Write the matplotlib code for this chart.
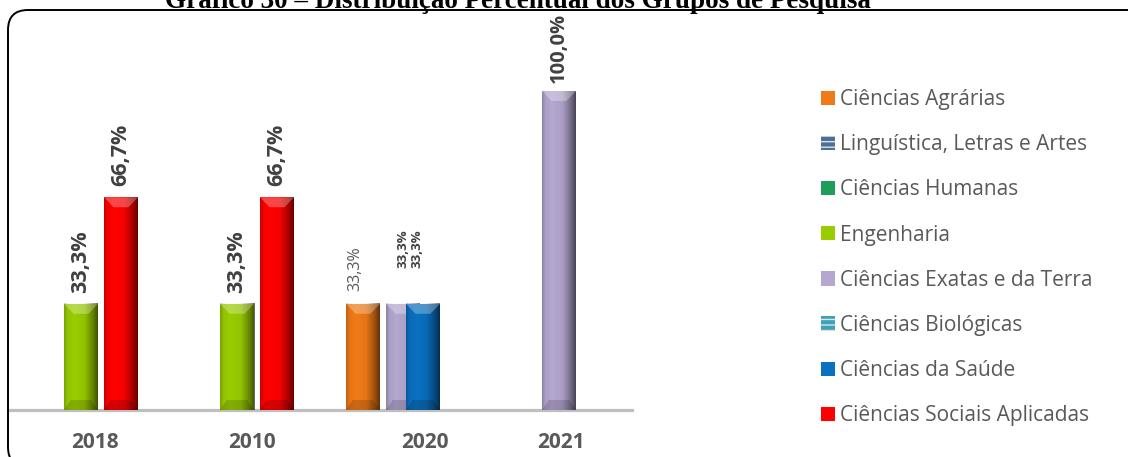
import numpy as np
import matplotlib
matplotlib.use("Agg")
import matplotlib.pyplot as plt
from matplotlib.patches import Patch, Polygon, FancyBboxPatch

# ---------------- data ----------------
title = "Gráfico 30 – Distribuição Percentual dos Grupos de Pesquisa"
categories = ["2018", "2010", "2020", "2021"]
series_names = ["Ciências Agrárias", "Linguística, Letras e Artes", "Ciências Humanas",
                "Engenharia", "Ciências Exatas e da Terra", "Ciências Biológicas",
                "Ciências da Saúde", "Ciências Sociais Aplicadas"]
agrarias = [0, 0, 33.3, 0]
linguistica = [0, 0, 0, 0]
humanas = [0, 0, 0, 0]
engenharia = [33.3, 33.3, 0, 0]
exatas = [0, 0, 33.3, 100.0]
biologicas = [0, 0, 0, 0]
saude = [0, 0, 33.3, 0]
sociais = [66.7, 66.7, 0, 0]
values = [agrarias, linguistica, humanas, engenharia, exatas, biologicas, saude, sociais]

# ---------------- style ----------------
colors = ["#F07A18", "#4F6E96", "#1E9E5A", "#9ACD00", "#B4A7D0", "#3FA3B5", "#0A70C0", "#FF0000"]
hatches = [None, "---", None, None, None, "---", None, None]
W, H = 1128, 457
fig = plt.figure(figsize=(W / 100, H / 100), dpi=100)
plt.rcParams["font.family"] = ["Open Sans", "DejaVu Sans"]

ax = fig.add_axes([8 / W, 47 / H, 624 / W, 319 / H])
ax.set_xlim(-0.5, len(categories) - 0.5)
ax.set_ylim(0, 100)

bar_w = 34 / 156
step = 10 / 156
x = np.arange(len(categories))
n = len(series_names)

# label style tweaks: (series, category) -> (fontsize, weight, color, dy_pt, dx_px)
label_style = {
    (0, 2): (11.5, "normal", "#595959", 9, -8),
    (4, 2): (9.5, "bold", "#404040", 26, 0),
    (6, 2): (9.5, "bold", "#404040", 26, -6),
    (4, 3): (14.5, "bold", "#404040", 6, 0),
}
default_label = (15.5, "bold", "#404040", 8, 0)

px_per_unit_y = 319 / 100.0

for i, (name, vals) in enumerate(zip(series_names, values)):
    z = 2 + i * 0.1
    xs = x + (i - (n - 1) / 2) * step
    bars = ax.bar(xs, vals, width=bar_w, color=colors[i], zorder=z, linewidth=0)
    for j, rect in enumerate(bars):
        h = rect.get_height()
        if h <= 0:
            continue
        x0, w = rect.get_x(), rect.get_width()
        # horizontal bevel shading
        g = np.linspace(0, 1, 80)
        prof = np.interp(g, [0, 0.1, 0.3, 0.6, 0.85, 1.0], [0.22, 0.05, 0.0, 0.05, 0.35, 0.6])
        img = np.zeros((1, 80, 4))
        img[..., 3] = prof
        ax.imshow(img, extent=(x0, x0 + w, 0, h), aspect="auto", zorder=z + 0.02,
                  interpolation="bilinear", clip_path=rect)
        # bottom darker bevel
        d = 10 / px_per_unit_y
        ax.add_patch(Polygon([(x0, 0), (x0 + w, 0), (x0 + w * 0.8, d), (x0 + w * 0.2, d)],
                             closed=True, facecolor="black", alpha=0.15, lw=0, zorder=z + 0.03))
        # top lighter bevel
        ax.add_patch(Polygon([(x0, h), (x0 + w, h), (x0 + w * 0.72, h - d), (x0 + w * 0.28, h - d)],
                             closed=True, facecolor="white", alpha=0.28, lw=0, zorder=z + 0.03))
        fs, wt, col, dy, dx = label_style.get((i, j), default_label)
        lab = f"{vals[j]:.1f}".replace(".", ",") + "%"
        ax.annotate(lab, xy=(rect.get_x() + w / 2, h), xytext=(dx * 72 / 100, dy),
                    textcoords="offset points", rotation=90, ha="center", va="bottom",
                    fontsize=fs, fontweight=wt, color=col, zorder=10,
                    annotation_clip=False)

ax.set_xlim(-0.5, len(categories) - 0.5)
ax.set_ylim(0, 100)

# axes styling
for s in ["top", "right", "left"]:
    ax.spines[s].set_visible(False)
ax.spines["bottom"].set_color("#BFBFBF")
ax.spines["bottom"].set_linewidth(2.3)
ax.spines["bottom"].set_zorder(1)
ax.set_yticks([])
tick_dx_px = [9, 10, 27, 7]
ax.set_xticks(x + np.array(tick_dx_px) / 156)
ax.set_xticklabels(categories, fontsize=15, fontweight="bold", color="#595959")
ax.tick_params(axis="x", length=0, pad=16)
ax.patch.set_visible(False)

# legend
handles = [Patch(facecolor=colors[i], hatch=hatches[i], edgecolor=("#D8E4F0" if hatches[i] else colors[i]),
                 linewidth=0) for i in range(n)]
leg = fig.legend(handles, series_names, loc="upper left", bbox_to_anchor=(821 / W, 1 - 89 / H),
                 frameon=False, fontsize=15, labelcolor="#595959",
                 handlelength=0.68, handleheight=0.68, handletextpad=0.25,
                 labelspacing=1.16, borderpad=0, borderaxespad=0)

# title (cut off at top)
fig.text(518 / W, 1 - 8 / H, title, ha="center", va="baseline",
         fontsize=19.5, fontweight="bold", family="Liberation Serif", color="black")

# rounded border
border = FancyBboxPatch((0.08, -0.10), 11.40, 4.57, boxstyle="round,pad=0,rounding_size=0.2",
                        transform=fig.dpi_scale_trans, facecolor="none", edgecolor="black",
                        linewidth=1.4, zorder=0)
fig.patches.append(border)

fig.savefig("out.png", dpi=100)
